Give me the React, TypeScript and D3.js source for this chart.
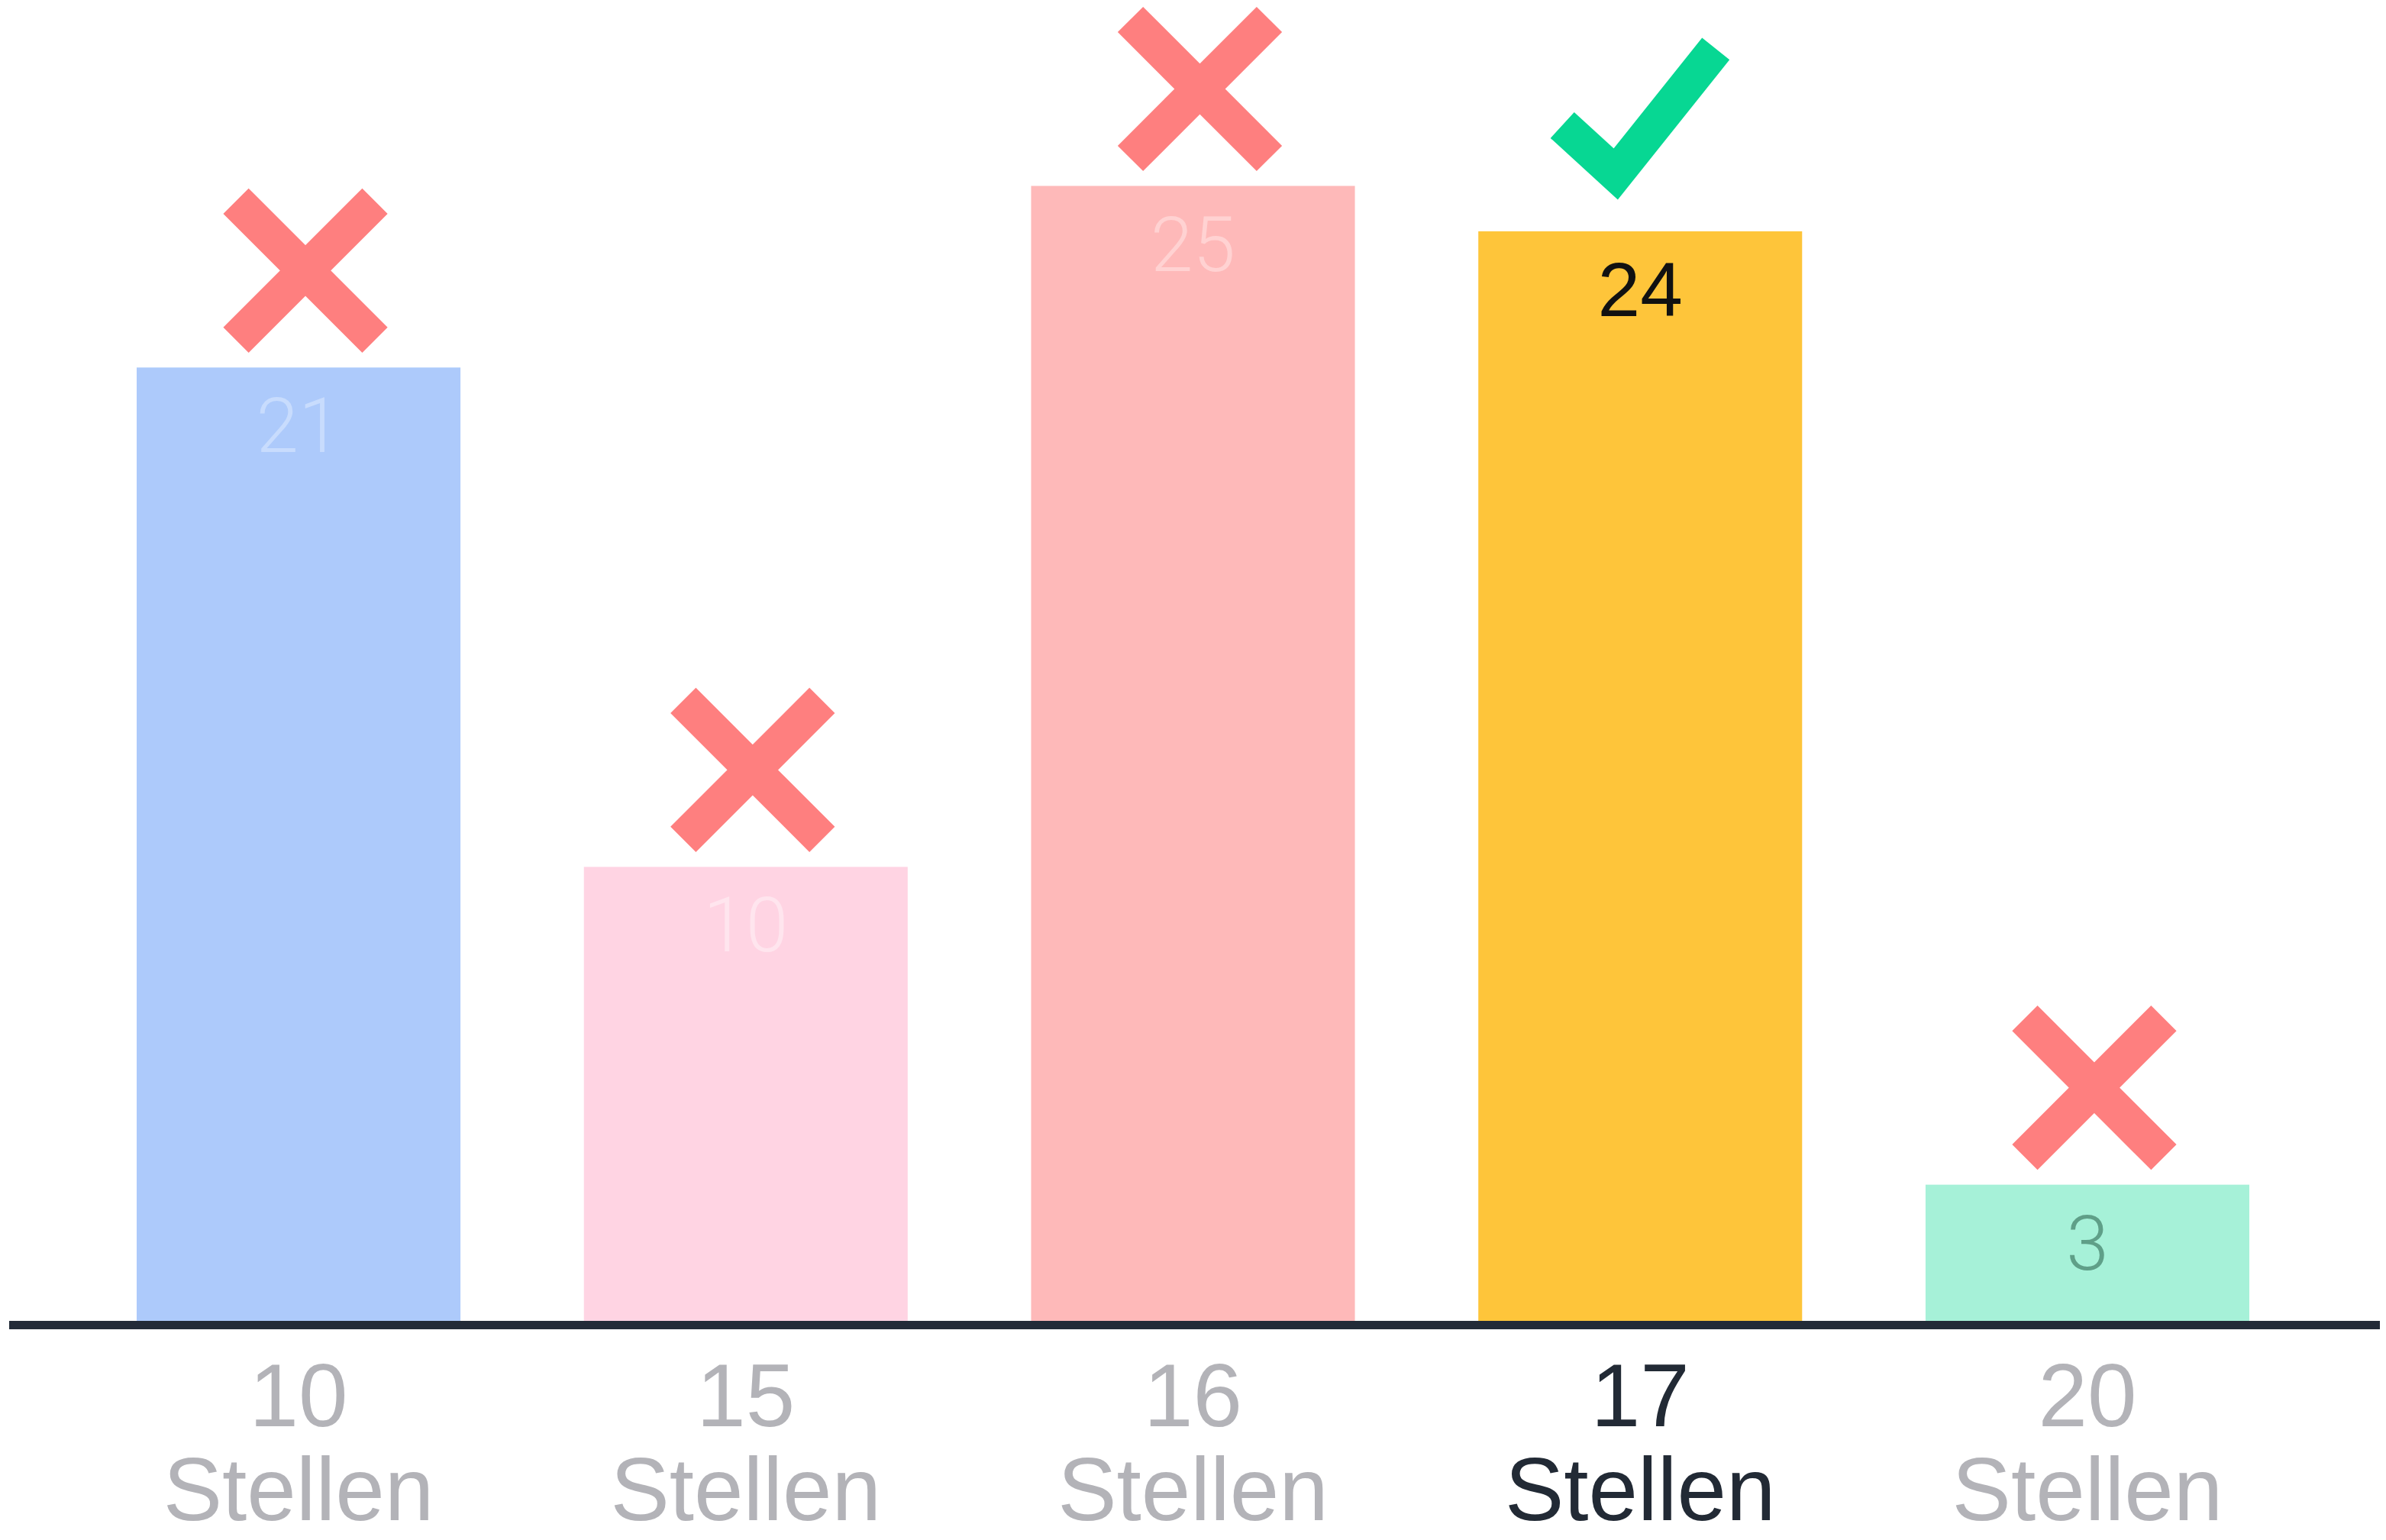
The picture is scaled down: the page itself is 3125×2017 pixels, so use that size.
import React from "react";
import * as d3 from "d3";

// Werte
const categories = ["10", "15", "16", "17", "20"];
const unitLabel = "Stellen";
const counts = [21, 10, 25, 24, 3];
const verdicts = ["wrong", "wrong", "wrong", "right", "wrong"];
const correctIndex = 3;

const barColors = ["#adcafb", "#ffd4e3", "#feb9b9", "#fec53a", "#a6f1d8"];
const valueColors = ["#c8dcfd", "#ffe5ee", "#ffd2d2", "#111111", "#5f9f88"];

const width = 3125;
const height = 2017;
const baseline = 1730;

export default function App() {
    const x = d3
        .scaleBand<string>()
        .domain(categories)
        .range([179, 2946])
        .paddingInner(0.276)
        .paddingOuter(0);

    const y = d3.scaleLinear().domain([0, 25]).range([baseline, baseline - 25 * 59.46]);

    // Kreuz über falschen Antworten
    const crossPath = (cx: number, cy: number) => {
        const a = 91;
        return `M${cx - a},${cy - a}L${cx + a},${cy + a}M${cx + a},${cy - a}L${cx - a},${cy + a}`;
    };

    // Haken über der richtigen Antwort
    const checkPath = (bx: number, top: number) => {
        const line = d3.line();
        return line([
            [bx - 102, top - 139],
            [bx - 32, top - 75],
            [bx + 99, top - 239],
        ]) as string;
    };

    return (
        <svg
            width={width}
            height={height}
            style={{ position: "absolute", left: 0, top: 0, background: "#fff" }}
            fontFamily="'Liberation Sans', Arial, sans-serif"
        >
            {categories.map((c, i) => {
                const bx = x(c)!;
                const bw = x.bandwidth();
                const cx = bx + bw / 2;
                const top = y(counts[i]);
                const labelColor = i === correctIndex ? "#222a35" : "#b3b3b8";
                return (
                    <g key={c}>
                        <rect x={bx} y={top} width={bw} height={baseline - top} fill={barColors[i]} />
                        <text
                            x={cx}
                            y={top + 111}
                            textAnchor="middle"
                            fontSize={100}
                            fontFamily={i === correctIndex ? "'Liberation Sans', sans-serif" : "Roboto, sans-serif"}
                            fontWeight={i === correctIndex ? 400 : 300}
                            fill={valueColors[i]}
                        >
                            {counts[i]}
                        </text>
                        {verdicts[i] === "wrong" ? (
                            <path d={crossPath(cx + 9, top - 127)} stroke="#fe7f7f" strokeWidth={47} fill="none" />
                        ) : (
                            <path
                                d={checkPath(cx, top)}
                                stroke="#07d793"
                                strokeWidth={46}
                                strokeLinejoin="miter"
                                fill="none"
                            />
                        )}
                        <text x={cx} y={1868} textAnchor="middle" fontSize={116} fill={labelColor}>
                            {c}
                        </text>
                        <text x={cx} y={1991} textAnchor="middle" fontSize={116} fill={labelColor}>
                            {unitLabel}
                        </text>
                    </g>
                );
            })}
            <line x1={12} x2={3117} y1={1735.5} y2={1735.5} stroke="#232b38" strokeWidth={11} />
        </svg>
    );
}
